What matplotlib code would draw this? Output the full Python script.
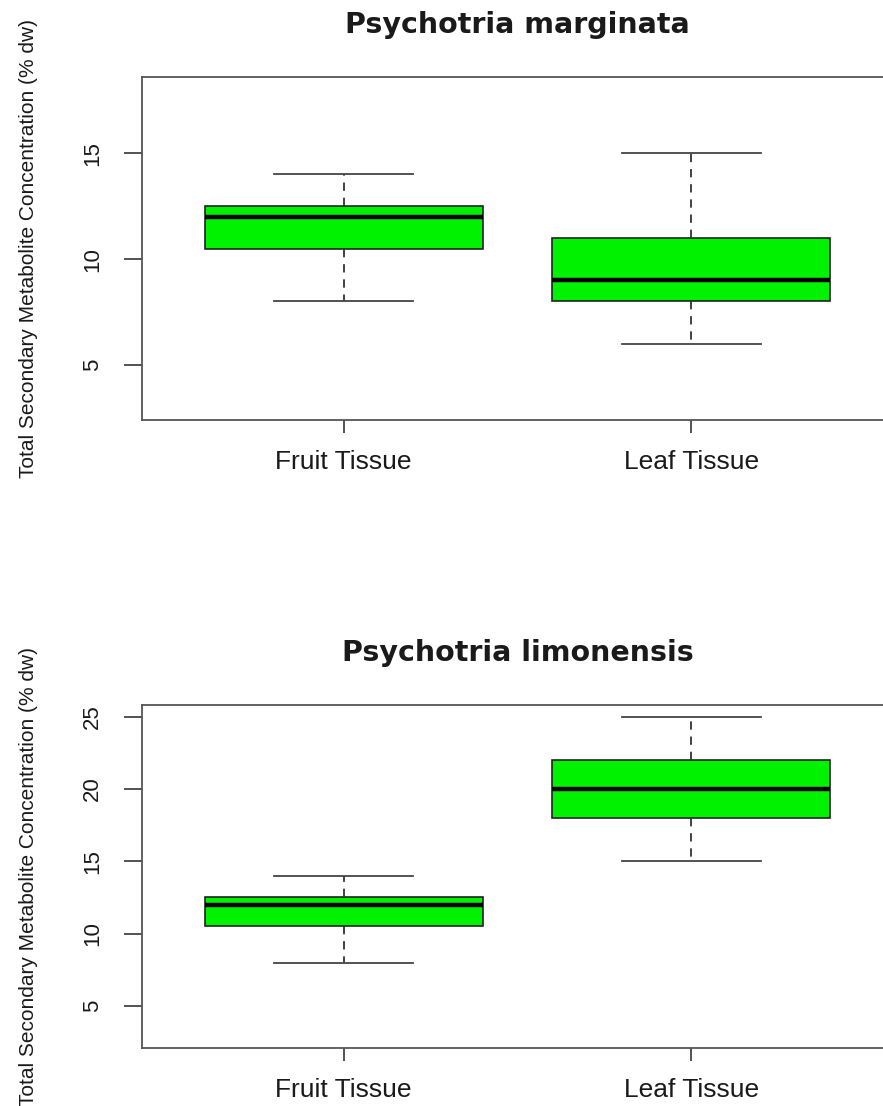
"""Boxplots of total secondary metabolite concentration by tissue type."""

import matplotlib

matplotlib.use("Agg")
import matplotlib.pyplot as plt

plt.rcParams["font.family"] = ["Liberation Sans", "DejaVu Sans"]

tissues = ["Fruit Tissue", "Leaf Tissue"]
species = ["Psychotria marginata", "Psychotria limonensis"]

# (whisker low, q1, median, q3, whisker high) per tissue
marginata_stats = [(8, 10.5, 12, 12.5, 14), (6, 8, 9, 11, 15)]
limonensis_stats = [(8, 10.5, 12, 12.5, 14), (15, 18, 20, 22, 25)]

marginata_ticks = [5, 10, 15]
limonensis_ticks = [5, 10, 15, 20, 25]
marginata_ylim = (2.4, 18.6)
limonensis_ylim = (2.1, 25.8)

ylabel = "Total Secondary Metabolite Concentration (% dw)"

W, H = 883, 1106
fig = plt.figure(figsize=(W / 100, H / 100), dpi=100)
TEXT = "#1a1a1a"


def panel(rect, title, stats, ticks, ylim):
    ax = fig.add_axes(rect)
    boxes = [
        dict(whislo=lo, q1=q1, med=med, q3=q3, whishi=hi, fliers=[], label=lab)
        for (lo, q1, med, q3, hi), lab in zip(stats, tissues)
    ]
    ax.bxp(
        boxes,
        positions=[1, 2],
        widths=0.8,
        patch_artist=True,
        showfliers=False,
        boxprops=dict(facecolor="#00f200", edgecolor="#222222", linewidth=1.2),
        medianprops=dict(color="black", linewidth=3.2),
        whiskerprops=dict(color="#333333", linewidth=1.3, linestyle=(0, (4.6, 3.8))),
        capprops=dict(color="#444444", linewidth=1.3),
        capwidths=0.4,
    )
    ax.set_xlim(0.42, 2.58)
    ax.set_ylim(*ylim)
    ax.set_yticks(ticks)
    ax.set_yticklabels([str(t) for t in ticks], rotation=90, va="center")
    ax.set_xticks([1, 2])
    ax.set_xticklabels(tissues)
    ax.tick_params(axis="x", length=9.4, width=1.3, color="#444444",
                   labelsize=19, labelcolor=TEXT, pad=12)
    ax.tick_params(axis="y", length=13, width=1.3, color="#444444",
                   labelsize=16, labelcolor=TEXT, pad=15)
    for s in ax.spines.values():
        s.set_color("#555555")
        s.set_linewidth(1.3)
    ax.set_title(title, fontsize=20.5, fontweight="bold", pad=32,
                 family=["DejaVu Sans"], color=TEXT)
    ax.set_ylabel(ylabel, fontsize=15, color=TEXT)
    ax.yaxis.set_label_coords(-0.139, 0.5)
    return ax


# axes extend past the right edge as in the original cropped figure
left = 142 / W
right = 893 / W
panel([left, 1 - 420 / H, right - left, (420 - 77) / H],
      species[0], marginata_stats, marginata_ticks, marginata_ylim)
panel([left, 1 - 1048 / H, right - left, (1048 - 705) / H],
      species[1], limonensis_stats, limonensis_ticks, limonensis_ylim)

fig.savefig("out.png", dpi=100)
